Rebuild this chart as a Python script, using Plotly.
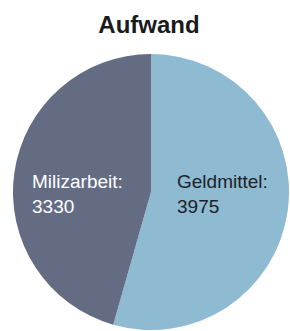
import plotly.graph_objects as go

labels = ["Geldmittel", "Milizarbeit"]
values = [3975, 3330]
colors = ["#8ebad2", "#646c84"]
text_colors = ["#1e2227", "#ffffff"]
title_text = "Aufwand"

W, H = 290, 331
ml, mr, mt, mb = 13, 1, 54, 1
pw, ph = W - ml - mr, H - mt - mb

def px_to_paper(x, y):
    return (x - ml) / pw, (H - mb - y) / ph

label_px = [(175, 194), (30, 194)]

fig = go.Figure(go.Pie(
    labels=labels,
    values=values,
    marker=dict(colors=colors, line=dict(width=0)),
    sort=False,
    direction="clockwise",
    rotation=0,
    textinfo="none",
    showlegend=False,
))

annotations = []
for lab, val, tc, (x, y) in zip(labels, values, text_colors, label_px):
    xp, yp = px_to_paper(x, y)
    annotations.append(dict(
        text=f"{lab}:<br>{val}",
        x=xp, y=yp, xref="paper", yref="paper",
        xanchor="left", yanchor="middle", align="left",
        showarrow=False,
        font=dict(family="Liberation Sans, Arial, sans-serif", size=19, color=tc),
    ))

fig.update_layout(
    width=W, height=H,
    margin=dict(l=ml, r=mr, t=mt, b=mb),
    paper_bgcolor="white",
    plot_bgcolor="white",
    title=dict(
        text=f"<b>{title_text}</b>",
        x=149 / W, xanchor="center",
        y=1 - 25 / H, yanchor="middle", yref="container",
        font=dict(family="Liberation Sans, Arial, sans-serif", size=24, color="#1a1a1a"),
    ),
    annotations=annotations,
)

fig.write_html(
    "out.html",
    config={"displayModeBar": False},
    post_script="document.body.style.margin='0';document.body.style.overflow='hidden';",
)
